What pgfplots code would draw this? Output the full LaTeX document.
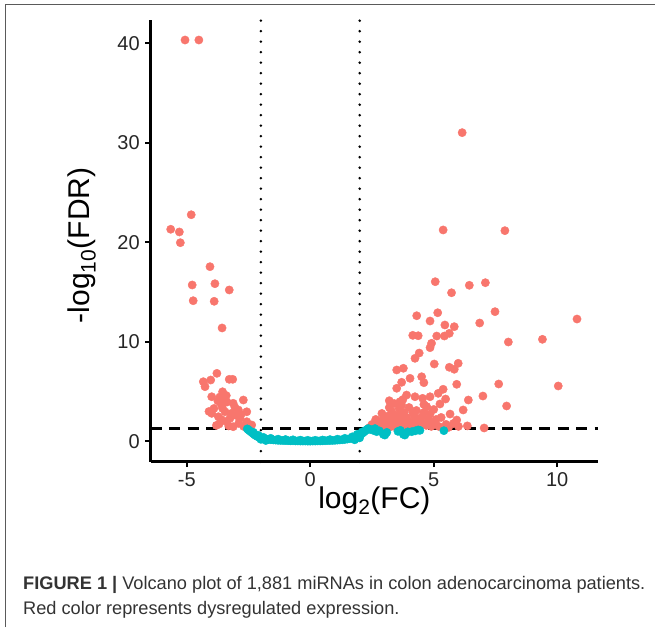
\documentclass[border=0pt]{standalone}
\usepackage{pgfplots}
\pgfplotsset{compat=1.18}
\usepackage{fontspec}
\setmainfont{Liberation Sans}
\definecolor{ggred}{HTML}{F8766D}
\definecolor{ggteal}{HTML}{00BFC4}
\definecolor{framegray}{HTML}{5A5A5A}
\definecolor{captext}{HTML}{333333}
\begin{document}
\begin{tikzpicture}
\useasboundingbox (0pt,0pt) rectangle (655pt,-627pt);
\draw[line width=1.3pt, framegray] (5.5pt,-627pt) -- (5.5pt,-4.5pt) -- (655pt,-4.5pt);
\begin{axis}[
  at={(150.7pt,-461.7pt)}, anchor=south west,
  width=447.3pt, height=441.7pt, scale only axis,
  xmin=-6.46, xmax=11.65, ymin=-2.05, ymax=42.34,
  axis x line*=bottom, axis y line*=left,
  axis line style={-, line width=2.5pt, black},
  xtick={-5,0,5,10}, ytick={0,10,20,30,40},
  tick align=outside, major tick length=5.5pt,
  tick style={line width=2pt, black},
  /pgf/number format/assume math mode=true,
  ticklabel style={font=\fontsize{20}{23}\selectfont, text=black!85},
  xticklabel style={yshift=-2pt},
  yticklabel style={xshift=-2pt},
  xlabel={log\textsubscript{2}(FC)},
  ylabel={-log\textsubscript{10}(FDR)},
  label style={font=\fontsize{30}{34}\selectfont},
  xlabel style={at={(axis description cs:0.5,-0.088)}, anchor=center},
  ylabel style={at={(axis description cs:-0.154,0.49)}, anchor=center},
  clip=false,
]
% significant (red)
\addplot[only marks, mark=*, mark size=4.15pt, color=ggred] coordinates {
(-5.07,40.33) (-4.51,40.33) (-4.82,22.77) (-5.65,21.31) (-5.30,21.04) (-5.26,19.96)
(-4.06,17.55) (-4.78,15.71) (-3.86,15.84) (-3.28,15.21) (-4.74,14.13) (-3.89,14.07)
(-3.57,11.39) (-3.78,6.83) (-4.33,5.99) (-4.03,6.16) (-3.28,6.23) (-3.14,6.23)
(-4.26,5.49) (-3.55,4.98) (-3.99,4.48) (-3.66,4.45) (-3.49,4.25) (-3.37,3.95)
(-3.74,4.05) (-2.71,4.15) (-3.59,3.65) (-3.12,3.82) (-3.99,2.81) (-3.45,2.97)
(-2.91,3.15) (-3.25,2.31) (-3.72,2.47) (-2.85,2.31) (-2.57,1.97) (-3.12,1.47)
(-2.37,1.64) (-2.57,2.97) (-2.70,1.50) (-2.90,1.80) (-3.00,2.60) (-3.40,2.00)
(-3.90,3.30) (-4.10,3.00) (-3.80,1.60) (-2.50,1.40) (-3.69,1.74) (-3.30,1.55)
(-3.55,3.30) (-3.20,2.80) (-3.05,3.40) (-3.60,2.20) (-2.80,2.70) (-3.40,4.60)
(6.15,31.02) (5.38,21.24) (7.88,21.17) (5.06,16.04) (6.44,15.68) (7.09,15.94)
(5.72,14.93) (7.48,13.03) (10.80,12.29) (4.31,12.62) (5.16,12.92) (4.85,12.09)
(5.45,11.69) (5.83,11.52) (6.86,11.89) (8.02,9.98) (9.40,10.25) (4.15,10.65)
(4.37,10.61) (5.12,10.58) (5.43,10.58) (5.63,10.85) (4.91,9.85) (4.85,9.41)
(4.41,8.87) (4.24,8.34) (5.02,7.77) (5.63,7.44) (5.83,7.24) (5.99,7.84)
(3.50,7.17) (3.77,7.34) (4.04,6.33) (4.51,6.49) (4.60,5.89) (3.70,5.93)
(3.50,5.33) (5.93,5.73) (7.63,5.76) (10.04,5.56) (3.90,4.65) (4.24,4.48)
(4.55,4.32) (4.85,4.48) (5.18,4.82) (5.38,5.23) (5.48,4.25) (6.40,4.15)
(6.99,4.55) (3.20,4.08) (3.63,3.98) (3.70,3.65) (6.19,3.15) (7.95,3.55)
(4.85,2.74) (5.66,2.74) (5.93,2.14) (6.36,1.55) (7.04,1.34)
(2.40,1.40) (2.60,1.50) (2.70,1.80) (2.80,1.40) (2.90,2.10) (3.00,1.60)
(3.10,1.90) (3.10,2.50) (3.20,1.40) (3.30,2.20) (3.30,3.00) (3.40,1.70)
(3.50,2.00) (3.50,2.60) (3.60,1.50) (3.60,3.30) (3.70,2.30) (3.80,1.80)
(3.80,2.90) (3.90,1.50) (3.90,2.40) (4.00,2.00) (4.00,3.40) (4.10,1.60)
(4.20,2.60) (4.20,1.90) (4.30,3.10) (4.40,1.50) (4.40,2.30) (4.50,1.80)
(4.60,2.90) (4.70,1.60) (4.80,2.20) (4.90,1.50) (5.00,3.20) (5.00,1.90)
(5.20,1.50) (5.30,2.40) (5.50,1.70) (5.60,1.40) (5.80,1.80) (6.00,1.50)
(4.60,3.70) (3.40,3.80) (3.20,3.40) (2.90,2.80) (3.75,4.20) (4.70,3.50)
(5.25,3.75) (4.71,3.48) (2.55,1.35) (2.75,1.30) (3.05,1.35)
(2.65,2.20) (2.85,1.65) (3.15,1.70) (3.25,2.60) (3.45,1.45) (3.65,2.70)
(3.85,2.10) (4.05,1.40) (4.15,2.90) (4.35,1.75) (4.55,2.50) (4.75,1.90)
(2.50,1.70) (3.00,2.30) (3.35,1.90) (3.95,1.75) (4.45,2.05) (5.10,2.20)
};
% not significant (teal)
\addplot[only marks, mark=*, mark size=4.15pt, color=ggteal] coordinates {
(-2.55,1.25) (-2.50,1.15) (-2.45,1.05) (-2.40,0.95) (-2.35,0.85) (-2.30,0.75)
(-2.25,0.65) (-2.20,0.57) (-2.15,0.50) (-2.10,0.44) (-2.05,0.39) (-2.00,0.35)
(-1.95,0.31) (-1.90,0.28) (-1.85,0.25) (-1.80,0.22) (-1.70,0.19) (-1.60,0.16)
(-1.50,0.14) (-1.40,0.12) (-1.30,0.10) (-1.20,0.09) (-1.10,0.08) (-1.00,0.07)
(-0.90,0.06) (-0.80,0.05) (-0.70,0.05) (-0.60,0.04) (-0.50,0.04) (-0.40,0.03)
(-0.30,0.03) (-0.20,0.03) (-0.10,0.02) (0.00,0.02) (0.10,0.03) (0.20,0.03)
(0.30,0.04) (0.40,0.04) (0.50,0.05) (0.60,0.06) (0.70,0.07) (0.80,0.08)
(0.90,0.09) (1.00,0.10) (1.10,0.12) (1.20,0.14) (1.30,0.16) (1.40,0.19)
(1.50,0.22) (1.60,0.26) (1.70,0.31) (1.80,0.37) (1.85,0.42) (1.90,0.48)
(1.95,0.55) (2.00,0.62) (2.05,0.70) (2.10,0.80) (2.15,0.90) (2.20,1.00)
(2.25,1.10) (2.30,1.20) (2.35,1.28)
(-2.30,0.90) (-2.10,0.60) (-1.90,0.40) (-1.60,0.30) (-1.30,0.22) (-1.00,0.18)
(-0.70,0.15) (-0.40,0.12) (-0.10,0.10) (0.20,0.10) (0.50,0.13) (0.80,0.17)
(1.10,0.22) (1.40,0.30) (1.70,0.45) (1.90,0.70) (2.10,0.95) (-2.00,0.20)
(-1.80,0.08) (1.80,0.15) (2.00,0.35)
(2.42,1.20) (2.55,1.10) (2.62,1.28) (2.69,0.97) (2.80,1.05) (2.96,0.70)
(3.02,0.63) (3.10,0.90) (3.55,1.00) (3.65,1.10) (3.77,0.70) (3.83,0.63)
(3.95,0.95) (4.11,0.97) (4.25,1.05) (4.37,1.14) (4.44,1.10) (5.41,1.07)
};
% threshold lines
\addplot[black, line width=2.8pt, line cap=round, dash pattern=on 0pt off 10.5pt] coordinates {(-2,-2.05) (-2,42.34)};
\addplot[black, line width=2.8pt, line cap=round, dash pattern=on 0pt off 10.5pt] coordinates {(2,-2.05) (2,42.34)};
\addplot[black, line width=2.4pt, dash pattern=on 11pt off 7.5pt] coordinates {(-6.46,1.3) (11.65,1.3)};
\end{axis}
\node[anchor=base west, inner sep=0pt, text=captext, font=\fontsize{18.2}{21}\selectfont] at (23pt,-589pt) {\textbf{FIGURE 1 |} Volcano plot of 1,881 miRNAs in colon adenocarcinoma patients.};
\node[anchor=base west, inner sep=0pt, text=captext, font=\fontsize{18.2}{21}\selectfont] at (23pt,-614pt) {Red color represents dysregulated expression.};
\end{tikzpicture}
\end{document}
